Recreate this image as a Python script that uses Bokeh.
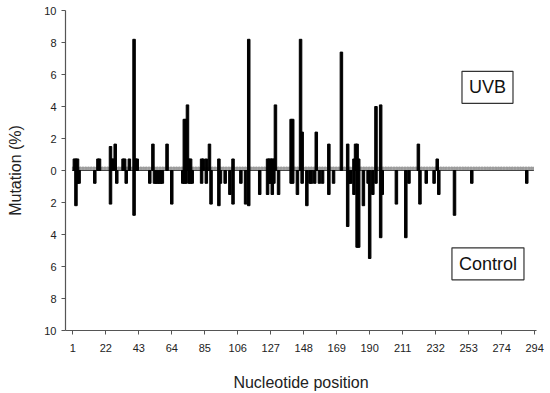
from bokeh.plotting import figure
from bokeh.models import FixedTicker, Label, Range1d
from bokeh.embed import file_html
from bokeh.resources import INLINE

# ---- data -------------------------------------------------------------
n_positions = 294
x_tick_labels = ["1", "22", "43", "64", "85", "106", "127", "148", "169",
                 "190", "211", "232", "253", "274", "294"]
y_tick_values = [-10, -8, -6, -4, -2, 0, 2, 4, 6, 8, 10]

uvb_pos = [2, 3, 4, 17, 18, 25, 26, 27, 28, 33, 34, 37, 40, 41, 42, 52, 61,
           72, 73, 74, 75, 76, 83, 84, 86, 88, 94, 103, 113, 125, 126, 127,
           128, 129, 130, 140, 141, 146, 147, 156, 164, 172, 176, 180, 181,
           182, 183, 194, 197, 221, 233]
uvb_val = [0.72, 0.72, 0.72, 0.72, 0.72, 1.5, 0.72, 0.72, 1.65, 0.72, 0.72,
           0.72, 8.2, 0.72, 0.72, 1.65, 1.65, 3.2, 3.2, 4.1, 0.72, 0.72, 0.72,
           0.72, 0.72, 1.65, 0.72, 0.72, 8.2, 0.72, 0.72, 0.72, 0.72, 0.72,
           4.1, 3.2, 3.2, 8.2, 2.4, 2.4, 1.65, 7.4, 1.65, 0.72, 1.65, 1.65,
           0.72, 4.0, 4.1, 1.65, 0.72]

ctrl_pos = [3, 4, 5, 15, 25, 29, 35, 40, 50, 53, 54, 55, 56, 57, 58, 64, 71,
            72, 73, 75, 76, 77, 83, 86, 89, 94, 95, 98, 101, 103, 108, 111,
            113, 120, 125, 126, 127, 128, 129, 132, 140, 141, 144, 147, 150,
            152, 153, 155, 158, 160, 164, 167, 176, 177, 178, 180, 182, 183,
            186, 189, 190, 192, 194, 197, 198, 207, 213, 215, 222, 226, 231,
            234, 244, 255, 290]
ctrl_val = [2.2, 0.8, 0.8, 0.8, 2.1, 0.8, 0.8, 2.8, 0.8, 0.8, 0.8, 0.8, 0.8,
            0.8, 0.8, 2.1, 0.8, 0.8, 0.8, 0.8, 0.8, 0.8, 0.8, 0.8, 2.1, 2.2,
            0.8, 0.8, 1.5, 2.1, 0.8, 2.1, 2.2, 1.5, 1.5, 0.8, 0.8, 1.5, 0.8,
            1.5, 0.8, 0.8, 1.5, 0.8, 2.2, 0.8, 0.8, 0.8, 0.8, 0.8, 1.5, 0.8,
            3.5, 0.8, 0.8, 1.5, 4.8, 4.8, 2.2, 0.8, 5.5, 1.5, 0.8, 4.2, 1.5,
            2.1, 4.2, 0.8, 2.1, 0.8, 0.8, 1.5, 2.8, 0.8, 0.8]

# ---- figure -----------------------------------------------------------
FONT = "Liberation Sans"
p = figure(width=550, height=393, output_backend="svg", toolbar_location=None,
           x_range=Range1d(-3.65, 296.2), y_range=Range1d(-10, 10),
           min_border_left=65, min_border_right=14, min_border_top=10,
           min_border_bottom=60)
p.xgrid.visible = False
p.ygrid.visible = False
p.outline_line_color = None
p.background_fill_color = "white"
p.border_fill_color = "white"

all_pos = list(range(1, n_positions + 1))
# small tick marks along the zero line (one per nucleotide)
p.vbar(x=all_pos, bottom=0, top=0.22, width=0.5, color="#9a9a9a")
p.segment(x0=[min(all_pos) - 0.5], x1=[max(all_pos) + 0.5], y0=[0], y1=[0],
          line_color="#444444", line_width=1)

p.vbar(x=uvb_pos, bottom=0, top=uvb_val, width=1.6, color="black")
p.vbar(x=ctrl_pos, top=0, bottom=[-v for v in ctrl_val], width=1.6,
       color="black")

# axes
x_ticks = [1 + 21 * i for i in range(len(x_tick_labels))]
p.xaxis.ticker = FixedTicker(ticks=x_ticks)
p.xaxis.major_label_overrides = {t: lab for t, lab in zip(x_ticks, x_tick_labels)}
p.yaxis.ticker = FixedTicker(ticks=y_tick_values)
p.yaxis.major_label_overrides = {t: str(abs(t)) for t in y_tick_values}

for ax in (p.xaxis, p.yaxis):
    ax.axis_line_color = "#555555"
    ax.axis_line_width = 1.2
    ax.major_tick_line_color = "#555555"
    ax.major_tick_in = 0
    ax.major_tick_out = 4
    ax.minor_tick_line_color = None
    ax.major_label_text_font = FONT
    ax.major_label_text_font_size = "11px"
    ax.major_label_text_color = "#222222"
    ax.axis_label_text_font = FONT
    ax.axis_label_text_font_size = "16px"
    ax.axis_label_text_font_style = "normal"
    ax.axis_label_text_color = "#222222"

p.xaxis.axis_label = "Nucleotide position"
p.xaxis.major_label_standoff = 9
p.xaxis.axis_label_standoff = 19
p.yaxis.axis_label = "Mutation (%)"
p.yaxis.major_label_standoff = 5
p.yaxis.axis_label_standoff = 17

p.add_layout(Label(x=265, y=5.2, text="UVB", text_align="center",
                   text_baseline="middle", text_font=FONT,
                   text_font_size="18px", text_color="#111111",
                   border_line_color="#333333", border_line_width=1.2,
                   background_fill_color="white", padding=(7, 6)))
p.add_layout(Label(x=265.3, y=-5.83, text="Control", text_align="center",
                   text_baseline="middle", text_font=FONT,
                   text_font_size="18px", text_color="#111111",
                   border_line_color="#333333", border_line_width=1.2,
                   background_fill_color="white", padding=(7, 6)))

open("out.html", "w").write(file_html(p, INLINE))
